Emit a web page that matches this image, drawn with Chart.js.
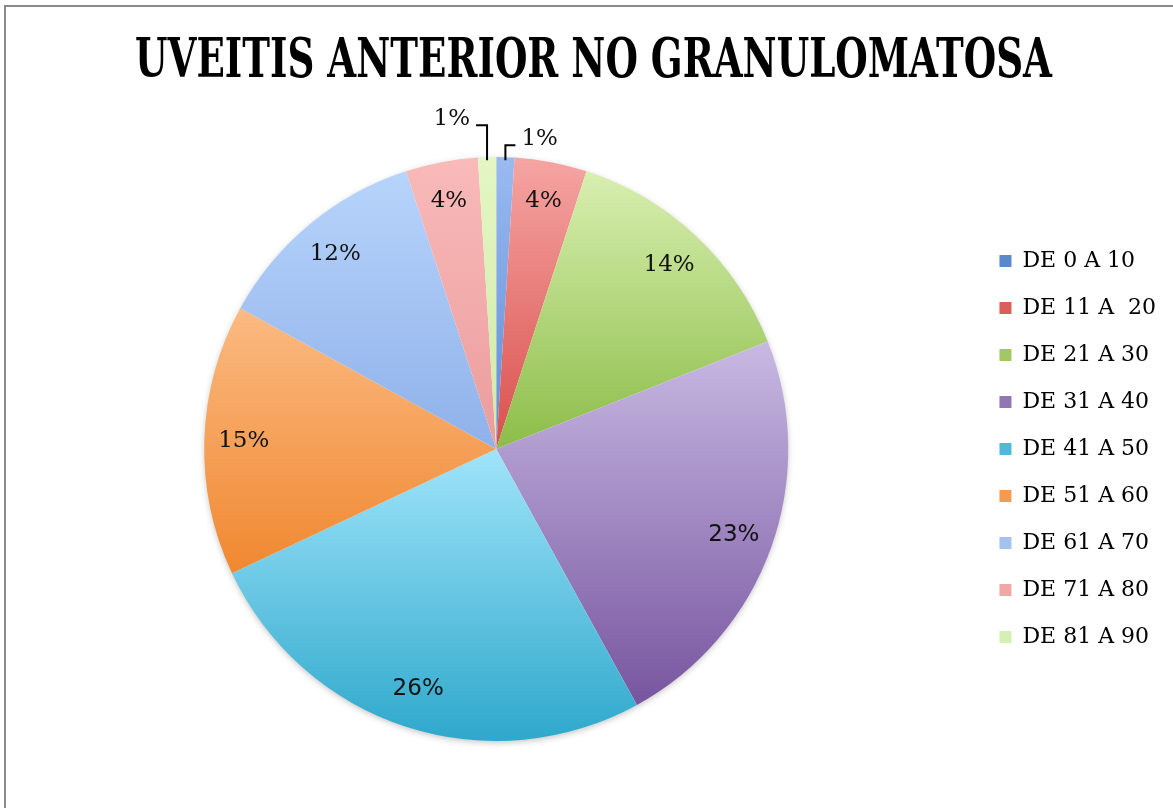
<!DOCTYPE html>
<html><head><meta charset="utf-8">
<script src="https://cdn.jsdelivr.net/npm/chart.js@4"></script>
<style>html,body{margin:0;padding:0;background:#fff;overflow:hidden}</style>
</head><body>
<canvas id="c" width="1173" height="808"></canvas>
<script>
const TITLE = 'UVEITIS ANTERIOR NO GRANULOMATOSA';
const categories = ['DE 0 A 10','DE 11 A  20','DE 21 A 30','DE 31 A 40','DE 41 A 50','DE 51 A 60','DE 61 A 70','DE 71 A 80','DE 81 A 90'];
const percentages = [1, 4, 14, 23, 26, 15, 12, 4, 1];
const topColors    = ['#9bbaf0','#f5a5a3','#d8efb0','#c8b9e3','#a0e4fa','#fbba82','#b7d4fb','#f9baba','#e3f6c4'];
const bottomColors = ['#5c8cd8','#d9504c','#8cbd48','#77559f','#2ea8cc','#f08830','#8fb1ea','#eb9c9c','#d0eaa8'];
const legendColors = ['#5a88cc','#dc5e5a','#a2c864','#9077b4','#4fb9d9','#f59a52','#a4c2ee','#f2a7a7','#d6efb2'];

const sum = a => a.reduce((s, v) => s + v, 0);

function sliceGradient(c) {
  const chart = c.chart, ca = chart.chartArea, i = c.dataIndex;
  if (!ca || i === undefined) return legendColors[i] || '#ccc';
  const data = chart.data.datasets[0].data;
  const total = sum(data);
  const before = sum(data.slice(0, i));
  const cx = (ca.left + ca.right) / 2, cy = (ca.top + ca.bottom) / 2;
  const R = Math.min(ca.right - ca.left, ca.bottom - ca.top) / 2;
  const a0 = -Math.PI / 2 + before / total * 2 * Math.PI;
  const a1 = a0 + data[i] / total * 2 * Math.PI;
  const ys = [cy, cy + R * Math.sin(a0), cy + R * Math.sin(a1)];
  for (const t of [-Math.PI / 2, Math.PI / 2, 3 * Math.PI / 2]) {
    if (t >= a0 - 1e-6 && t <= a1 + 1e-6) ys.push(cy + R * Math.sin(t));
  }
  const y0 = Math.min(...ys), y1 = Math.max(...ys);
  const g = chart.ctx.createLinearGradient(0, y0, 0, y1 > y0 ? y1 : y0 + 1);
  g.addColorStop(0, topColors[i]);
  g.addColorStop(1, bottomColors[i]);
  return g;
}

const framePlugin = {
  id: 'frame',
  beforeDraw(chart) {
    const ctx = chart.ctx;
    ctx.save();
    ctx.fillStyle = '#ffffff';
    ctx.fillRect(0, 0, chart.width, chart.height);
    ctx.strokeStyle = '#8a8a8a';
    ctx.lineWidth = 2;
    ctx.beginPath();
    ctx.moveTo(5, chart.height);
    ctx.lineTo(5, 6);
    ctx.lineTo(chart.width, 6);
    ctx.stroke();
    // title (condensed bold serif)
    ctx.font = 'bold 55px "DejaVu Serif"';
    const w = ctx.measureText(TITLE).width;
    ctx.translate(593.5, 77);
    ctx.scale(917 / w, 1);
    ctx.textAlign = 'center';
    ctx.textBaseline = 'alphabetic';
    ctx.fillStyle = '#000000';
    ctx.fillText(TITLE, 0, 0);
    ctx.restore();
  },
  beforeDatasetsDraw(chart) {
    const meta = chart.getDatasetMeta(0);
    if (!meta.data.length) return;
    const {x, y, outerRadius} = meta.data[0].getProps(['x', 'y', 'outerRadius'], true);
    const ctx = chart.ctx;
    ctx.save();
    ctx.shadowColor = 'rgba(0,0,0,0.28)';
    ctx.shadowBlur = 7;
    ctx.shadowOffsetY = 2;
    ctx.fillStyle = '#ffffff';
    ctx.beginPath();
    ctx.arc(x, y, outerRadius - 1, 0, Math.PI * 2);
    ctx.fill();
    ctx.restore();
  }
};

const sansIdx = new Set([3, 4]);
const leaderLift = {0: 12, 8: 32};

const labelPlugin = {
  id: 'pctLabels',
  afterDatasetsDraw(chart) {
    const ctx = chart.ctx;
    const meta = chart.getDatasetMeta(0);
    ctx.save();
    ctx.fillStyle = '#111111';
    ctx.strokeStyle = '#000000';
    meta.data.forEach((arc, i) => {
      const p = arc.getProps(['x', 'y', 'startAngle', 'endAngle', 'outerRadius'], true);
      const mid = (p.startAngle + p.endAngle) / 2;
      const txt = percentages[i] + '%';
      ctx.font = sansIdx.has(i) ? '23px "DejaVu Sans"' : '23px "DejaVu Serif"';
      if (leaderLift[i] === undefined) {
        const r = p.outerRadius * 0.865;
        ctx.textAlign = 'center';
        ctx.textBaseline = 'middle';
        ctx.fillText(txt, p.x + Math.cos(mid) * r, p.y + Math.sin(mid) * r);
      } else {
        const ex = p.x + Math.cos(mid) * p.outerRadius;
        const ey = p.y + Math.sin(mid) * p.outerRadius;
        const right = Math.cos(mid) >= 0;
        const ly = ey - leaderLift[i];
        const hx = right ? ex + 10 : ex - 11;
        ctx.lineWidth = 2;
        ctx.beginPath();
        ctx.moveTo(ex, ey + 3);
        ctx.lineTo(ex, ly);
        ctx.lineTo(hx, ly);
        ctx.stroke();
        ctx.textAlign = right ? 'left' : 'right';
        ctx.textBaseline = 'middle';
        ctx.fillText(txt, right ? hx + 6 : hx - 6, ly - 6);
      }
    });
    ctx.restore();
  }
};

new Chart(document.getElementById('c'), {
  type: 'pie',
  data: {
    labels: categories,
    datasets: [{
      data: percentages,
      backgroundColor: sliceGradient,
      borderWidth: 0
    }]
  },
  options: {
    responsive: false,
    animation: false,
    devicePixelRatio: 1,
    layout: {padding: {top: 157, bottom: 67, left: 18, right: 7}},
    plugins: {
      title: {display: false},
      tooltip: {enabled: false},
      legend: {
        position: 'right',
        align: 'center',
        labels: {
          boxWidth: 12,
          boxHeight: 12,
          padding: 25,
          color: '#000000',
          font: {family: '"DejaVu Serif"', size: 22},
          generateLabels(chart) {
            return chart.data.labels.map((l, i) => ({
              text: l,
              fillStyle: legendColors[i],
              strokeStyle: legendColors[i],
              lineWidth: 0,
              hidden: !chart.getDataVisibility(i),
              index: i
            }));
          }
        }
      }
    }
  },
  plugins: [framePlugin, labelPlugin]
});
</script>
</body></html>
